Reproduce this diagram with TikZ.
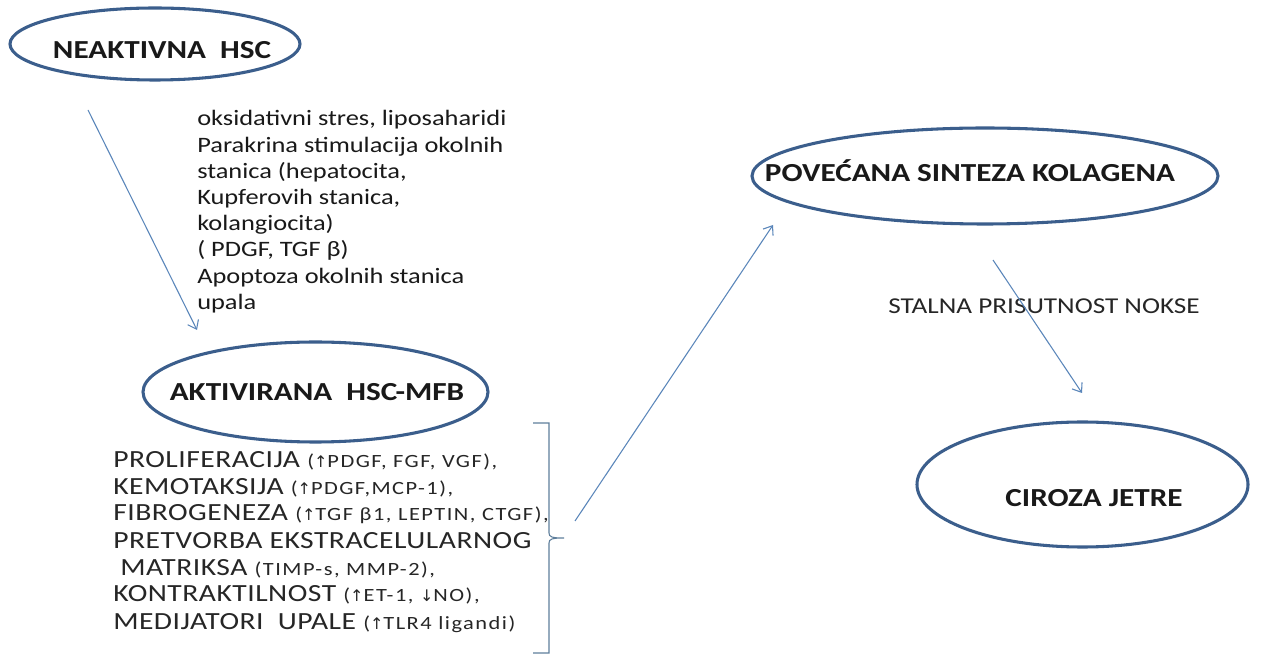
\documentclass[tikz,border=0pt]{standalone}
\usepackage{fontspec}
\setmainfont{Carlito}[FakeStretch=1.2]
\newfontfamily\arrowfont{DejaVu Sans}
\newfontfamily\listfont{Carlito}[FakeStretch=1.2, LetterSpace=2]
\newfontfamily\smallfont{Carlito}[FakeStretch=1.2, LetterSpace=8]
\usetikzlibrary{shapes.geometric,arrows.meta}
\definecolor{ellcol}{HTML}{3B5E8C}
\definecolor{arrcol}{HTML}{5A86BA}
\definecolor{brkcol}{HTML}{5F7F9C}
\newcommand\smalltxt[1]{{\smallfont\fontsize{14}{16}\selectfont #1}}
\newcommand\uparr{{\arrowfont\fontsize{12}{14}\selectfont ↑}}
\newcommand\downarr{{\arrowfont\fontsize{12}{14}\selectfont ↓}}
\begin{document}
\begin{tikzpicture}[x=0.75pt,y=-0.75pt,
  oval/.style={draw=ellcol, line width=2.3pt, ellipse, inner sep=0pt},
  elabel/.style={font=\fontsize{19.5}{23}\selectfont\bfseries, inner sep=0pt, text=black!90},
  conn/.style={draw=arrcol, line width=0.8pt, -{Straight Barb[length=6pt,width=9pt]}},
  side/.style={anchor=base west, inner sep=0pt, font=\fontsize{16.5}{19}\selectfont, text=black!90},
  item/.style={anchor=base west, inner sep=0pt, font=\listfont\fontsize{18.5}{22}\selectfont, text=black!85},
  note/.style={inner sep=0pt, font=\fontsize{17}{20}\selectfont, text=black!85},
  brace/.style={draw=brkcol, line width=0.8pt},
]
\useasboundingbox[fill=white] (0,0) rectangle (1271,655);

% ellipses
\node[oval, minimum width=217.5pt, minimum height=54pt] (e1) at (155,44) {};
\node[oval, minimum width=258.75pt, minimum height=75pt] (e2) at (315.5,392) {};
\node[oval, minimum width=349.5pt, minimum height=72pt] (e3) at (985,176) {};
\node[oval, minimum width=248.25pt, minimum height=93.75pt] (e4) at (1082.5,484.5) {};

\node[elabel] (t1) at (162,50) {NEAKTIVNA\ \ HSC};
\node[elabel] (t2) at (317,392) {AKTIVIRANA\ \ HSC-MFB};
\node[elabel] (t3) at (970,171) {POVEĆANA SINTEZA KOLAGENA};
\node[elabel] (t4) at (1094,498) {CIROZA JETRE};

% side text
\node[side] (s1) at (197,126) {oksidativni stres, liposaharidi};
\node[side] (s2) at (197,152.2) {Parakrina stimulacija okolnih};
\node[side] (s3) at (197,178.4) {stanica (hepatocita,};
\node[side] (s4) at (197,204.6) {Kupferovih stanica,};
\node[side] (s5) at (197,230.8) {kolangiocita)};
\node[side] (s6) at (197,257) {( PDGF, TGF β)};
\node[side] (s7) at (197,283.2) {Apoptoza okolnih stanica};
\node[side] (s8) at (197,309.4) {upala};

% list
\node[item] (l1) at (113,467.5) {PROLIFERACIJA \smalltxt{(\uparr PDGF, FGF, VGF),}};
\node[item] (l2) at (113,494.5) {KEMOTAKSIJA \smalltxt{(\uparr PDGF,MCP-1),}};
\node[item] (l3) at (113,520.5) {FIBROGENEZA \smalltxt{(\uparr TGF β1, LEPTIN, CTGF),}};
\node[item] (l4) at (113,548.5) {PRETVORBA EKSTRACELULARNOG};
\node[item] (l5) at (120,575.5) {MATRIKSA \smalltxt{(TIMP-s, MMP-2),}};
\node[item] (l6) at (113,601.5) {KONTRAKTILNOST \smalltxt{(\uparr ET-1, \downarr NO),}};
\node[item] (l7) at (113,629.5) {MEDIJATORI\ \ UPALE \smalltxt{(\uparr TLR4 ligandi)}};

\node[note] (n1) at (1044,306) {STALNA PRISUTNOST NOKSE};

% bracket
\coordinate (b1) at (533,423);
\coordinate (b2) at (549,423);
\coordinate (bm) at (564,538);
\coordinate (b3) at (549,653);
\coordinate (b4) at (533,653);
\draw[brace] (b1) -- (b2) -- (549,533) .. controls (549,537) and (552,538) .. (bm)
  .. controls (552,538) and (549,539) .. (549,543) -- (b3) -- (b4);

% arrows
\coordinate (a1s) at (88,110);
\coordinate (a1e) at (197,330);
\coordinate (a2s) at (575,521);
\coordinate (a2e) at (773,225);
\coordinate (a3s) at (993,260);
\coordinate (a3e) at (1082,393);
\draw[conn] (a1s) -- (a1e);
\draw[conn] (a2s) -- (a2e);
\draw[conn] (a3s) -- (a3e);
\end{tikzpicture}
\end{document}
